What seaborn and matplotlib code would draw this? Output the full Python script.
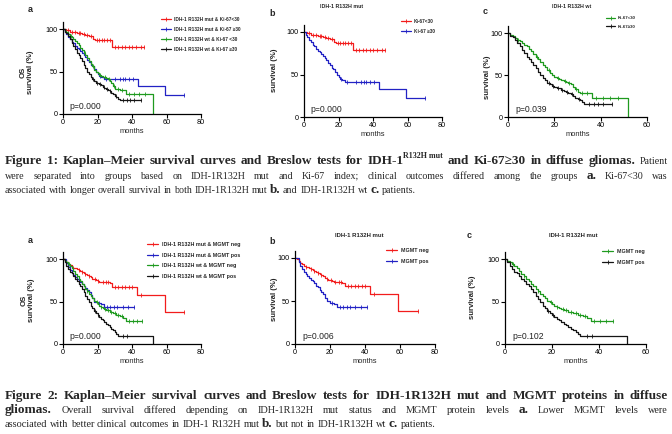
import numpy as np
import pandas as pd
import matplotlib
matplotlib.use("Agg")
import matplotlib.pyplot as plt
import matplotlib.transforms as mtransforms
from matplotlib.lines import Line2D
import seaborn as sns

# ===========================
# Data
# ===========================
# Figure 1 - IDH-1 R132H x Ki-67
ki_mut_lo_t = [0, 2, 4, 6, 8, 11, 13, 15, 17.5, 18.5, 28.5, 47]
ki_mut_lo_s = [100, 98.5, 97, 96, 95, 94, 93, 92, 88, 87, 79, 79]
ki_mut_lo_c = [3, 5, 7, 9.5, 10, 12, 14, 16, 19.5, 21, 22.5, 24, 25.5, 27, 30, 32, 34, 36, 38, 40, 42.5, 45, 47]

ki_mut_hi_t = [0, 1, 2, 3, 4, 5, 6, 7, 8, 9, 10, 11, 12, 13, 14, 15, 16, 17, 18, 19, 20, 21, 22, 24, 43.5, 59, 70]
ki_mut_hi_s = [100, 97, 94, 91, 88, 85, 83, 80, 78, 76, 74, 72, 69, 67, 64, 61, 58, 56, 53, 50, 47, 45, 43, 41, 33, 22, 22]
ki_mut_hi_c = [21.5, 25, 30, 33, 34.5, 36, 38, 40.5, 70]

ki_wt_lo_t = [0, 1, 2, 3, 4, 5, 6, 7, 8, 9, 10, 11, 12, 13, 14, 15, 16, 17, 18, 19, 20, 21, 22, 23, 24, 25, 26, 27, 28, 29, 30, 31, 33, 36.4, 52]
ki_wt_lo_s = [100, 98, 96, 94, 92, 90, 88, 86, 84, 81, 78, 75, 72, 69, 66, 62, 59, 56, 52, 50, 48, 46, 45, 44, 43, 42, 41, 39, 36, 33, 30, 29, 28, 23, 0]
ki_wt_lo_c = [4.5, 12.5, 17.5, 21.5, 24.5, 26.5, 29.5, 32, 34, 38, 41, 44, 47.5]

ki_wt_hi_t = [0, 1, 2, 3, 4, 5, 6, 7, 8, 9, 10, 11, 12, 13, 14, 15, 16, 17, 18, 19, 20, 21, 22, 23, 24, 25, 26, 27, 28, 29, 30, 31, 32, 33, 45]
ki_wt_hi_s = [100, 97, 95, 92, 88, 84, 80, 76, 72, 69, 66, 62, 58, 54, 50, 47, 44, 41, 39, 37, 36, 35, 34, 32, 31, 30, 28, 27, 25, 23, 21, 20, 18, 16, 16]
ki_wt_hi_c = [17.5, 19.5, 21.5, 23.5, 25.5, 27.5, 30.5, 35, 37, 39, 41, 45]

# Figure 2 - IDH-1 R132H x MGMT
mg_mut_neg_t = [0, 1, 2, 3, 4, 5, 6, 7, 8, 9, 10, 11, 12, 13, 14, 15, 16, 17, 18, 19, 20, 21, 22, 27, 28.5, 43, 59, 70]
mg_mut_neg_s = [100, 98.5, 96.5, 94.5, 92.5, 91, 90, 89, 88, 87, 86, 85, 84, 82, 81, 80, 79, 77, 76, 75, 74, 73, 72.5, 71.5, 67, 58, 38, 38]
mg_mut_neg_c = [3, 6, 9, 11, 13, 15, 18.5, 20.5, 23, 25, 26, 30, 32, 34, 36, 38, 40, 45, 70]

mg_mut_pos_t = [0, 2, 3, 4, 5, 6, 7, 8, 9, 10, 11, 12, 13, 14, 15, 16, 17, 18, 20, 22, 24, 41]
mg_mut_pos_s = [100, 95, 91, 87, 84, 81, 79, 77, 75, 73, 71, 68, 66, 63, 61, 58, 54, 50, 48, 47, 43, 43]
mg_mut_pos_c = [21, 25.5, 27.5, 29.5, 31.5, 34.5, 37.5, 41]

mg_wt_neg_t = [0, 1, 2, 3, 4, 5, 6, 7, 8, 9, 10, 11, 12, 13, 14, 15, 16, 17, 18, 19, 20, 21, 22, 23, 24, 25, 27, 29, 31, 33, 35, 36.5, 46]
mg_wt_neg_s = [100, 98, 96, 94, 92, 89, 86, 82, 80, 77, 74, 71, 68, 65, 62, 59, 56, 54, 51, 49, 47, 45, 43, 42, 41, 40, 38, 36, 34, 33, 31, 27, 27]
mg_wt_neg_c = [3.5, 8, 14, 19.5, 22, 24.5, 26, 28, 30, 32, 34, 38, 40.5, 43, 46]

mg_wt_pos_t = [0, 1, 2, 3, 4, 5, 6, 7, 8, 9, 10, 11, 12, 13, 14, 15, 16, 17, 18, 19, 20, 21, 22, 23, 24, 25, 26, 27, 28, 29, 30, 31, 32, 52]
mg_wt_pos_s = [100, 96, 92, 88, 85, 83, 80, 77, 74, 71, 68, 65, 61, 57, 53, 49, 45, 42, 39, 36, 34, 32, 30, 28, 26, 24, 22, 20, 18, 16, 14, 12, 10, 0]
mg_wt_pos_c = [18.5, 20.5, 35, 37]

# Captions
cap1 = [
    [("Figure 1: Kaplan–Meier survival curves and Breslow tests for IDH-1", "b"), ("R132H mut", "s"),
     (" and Ki-67≥30 in diffuse gliomas.", "b"), (" Patient", "r")],
    [("were separated into groups based on IDH-1R132H mut and Ki-67 index; clinical outcomes differed among the groups ", "r"),
     ("a.", "b"), (" Ki-67<30 was", "r")],
    [("associated with longer overall survival in both IDH-1R132H mut ", "r"), ("b.", "b"),
     (" and IDH-1R132H wt ", "r"), ("c.", "b"), (" patients.", "r")],
]
cap2 = [
    [("Figure 2: Kaplan–Meier survival curves and Breslow tests for IDH-1R132H mut and MGMT proteins in diffuse", "b")],
    [("gliomas.", "b"), (" Overall survival differed depending on IDH-1R132H mut status and MGMT protein levels ", "r"),
     ("a.", "b"), (" Lower MGMT levels were", "r")],
    [("associated with better clinical outcomes in IDH-1 R132H mut ", "r"), ("b.", "b"),
     (" but not in IDH-1R132H wt ", "r"), ("c.", "b"), (" patients.", "r")],
]

RED, BLUE, GREEN, BLACK = "#f21c1c", "#2222c4", "#1f9a1f", "#151515"
W, H = 672, 434

sns.set_style("ticks")
plt.rcParams["font.family"] = ["Liberation Sans", "DejaVu Sans"]
SERIF = ["Liberation Serif", "DejaVu Serif"]

fig = plt.figure(figsize=(W / 100, H / 100), dpi=100)


def panel(left, right, y0, y100):
    top = y0 - 1.08 * (y0 - y100)
    return fig.add_axes([left / W, 1 - y0 / H, (right - left) / W, (y0 - top) / H])


def km(ax, t, s, cens, color):
    df = pd.DataFrame({"months": t, "surv": s})
    sns.lineplot(data=df, x="months", y="surv", ax=ax, color=color, lw=0.9,
                 drawstyle="steps-post", sort=False, estimator=None)
    idx = np.searchsorted(t, cens, side="right") - 1
    ax.plot(cens, np.asarray(s)[idx], ls="none", marker="|", ms=2.6, mew=0.6, color=color)


def style(ax, xmax, p, ylab, lx, ly):
    ax.set_xlim(0, xmax)
    ax.set_ylim(0, 108)
    ax.set_xticks(range(0, xmax + 1, 20))
    ax.set_yticks([0, 50, 100])
    sns.despine(ax=ax)
    for sp in ["left", "bottom"]:
        ax.spines[sp].set_linewidth(0.9)
        ax.spines[sp].set_color("black")
    ax.tick_params(length=2.6, width=0.8, labelsize=5.2, pad=1, colors="black")
    ax.set_xlabel("months", fontsize=5.4, labelpad=1.5)
    ax.set_ylabel(ylab, fontsize=5.6, fontweight="bold", va="center", linespacing=1.0)
    ax.yaxis.set_label_coords(lx, ly)
    ax.text(0.05, 0.085, p, transform=ax.transAxes, fontsize=6.2, va="center", color="#222222")


def legend(ax, labels, colors, x, y, fs):
    hs = [Line2D([], [], color=c, lw=0.9, marker="|", ms=2.4, mew=0.6) for c in colors]
    ax.legend(hs, labels, loc="upper left", bbox_to_anchor=(x / W, 1 - y / H),
              bbox_transform=fig.transFigure, frameon=False,
              prop={"weight": "bold", "size": fs}, handlelength=2.1, handletextpad=0.6,
              labelspacing=1.05, borderpad=0, borderaxespad=0)


# ---------- Figure 1 ----------
ax = panel(63, 201, 114, 29)
km(ax, ki_mut_lo_t, ki_mut_lo_s, ki_mut_lo_c, RED)
km(ax, ki_mut_hi_t, ki_mut_hi_s, ki_mut_hi_c, BLUE)
km(ax, ki_wt_lo_t, ki_wt_lo_s, ki_wt_lo_c, GREEN)
km(ax, ki_wt_hi_t, ki_wt_hi_s, ki_wt_hi_c, BLACK)
style(ax, 80, "p=0.000", "OS\nsurvival (%)", -0.26, 0.455)
legend(ax, ["IDH-1 R132H mut & Ki-67<30", "IDH-1 R132H mut & Ki-67 ≥30",
            "IDH-1 R132H wt & Ki-67 <30", "IDH-1 R132H wt & Ki-67 ≥30"],
       [RED, BLUE, GREEN, BLACK], 161, 17, 3.4)

ax = panel(304, 442, 117, 32)
km(ax, ki_mut_lo_t, ki_mut_lo_s, ki_mut_lo_c, RED)
km(ax, ki_mut_hi_t, ki_mut_hi_s, ki_mut_hi_c, BLUE)
style(ax, 80, "p=0.000", "survival (%)", -0.215, 0.51)
legend(ax, ["Ki-67<30", "Ki-67 ≥30"], [RED, BLUE], 401, 19, 3.4)

ax = panel(508, 647, 117, 33)
km(ax, ki_wt_lo_t, ki_wt_lo_s, ki_wt_lo_c, GREEN)
km(ax, ki_wt_hi_t, ki_wt_hi_s, ki_wt_hi_c, BLACK)
style(ax, 60, "p=0.039", "survival (%)", -0.146, 0.44)
legend(ax, ["Ki-67<30", "Ki-67≥30"], [GREEN, BLACK], 606, 16, 3.2)

# ---------- Figure 2 ----------
ax = panel(63, 201, 344, 259)
km(ax, mg_mut_neg_t, mg_mut_neg_s, mg_mut_neg_c, RED)
km(ax, mg_mut_pos_t, mg_mut_pos_s, mg_mut_pos_c, BLUE)
km(ax, mg_wt_neg_t, mg_wt_neg_s, mg_wt_neg_c, GREEN)
km(ax, mg_wt_pos_t, mg_wt_pos_s, mg_wt_pos_c, BLACK)
style(ax, 80, "p=0.000", "OS\nsurvival (%)", -0.257, 0.48)
legend(ax, ["IDH-1 R132H mut & MGMT neg", "IDH-1 R132H mut & MGMT pos",
            "IDH-1 R132H wt & MGMT neg", "IDH-1 R132H wt & MGMT pos"],
       [RED, BLUE, GREEN, BLACK], 147, 242, 3.9)

ax = panel(295, 435, 344, 258)
km(ax, mg_mut_neg_t, mg_mut_neg_s, mg_mut_neg_c, RED)
km(ax, mg_mut_pos_t, mg_mut_pos_s, mg_mut_pos_c, BLUE)
style(ax, 80, "p=0.006", "survival (%)", -0.15, 0.48)
legend(ax, ["MGMT neg", "MGMT pos"], [RED, BLUE], 386, 248, 3.9)

ax = panel(505, 646, 344, 259)
km(ax, mg_wt_neg_t, mg_wt_neg_s, mg_wt_neg_c, GREEN)
km(ax, mg_wt_pos_t, mg_wt_pos_s, mg_wt_pos_c, BLACK)
style(ax, 60, "p=0.102", "survival (%)", -0.227, 0.51)
legend(ax, ["MGMT neg", "MGMT pos"], [GREEN, BLACK], 602, 249, 3.9)

# panel letters and titles
for x, y, s in [(30, 10, "a"), (272, 13, "b"), (485, 11, "c"), (30, 240, "a"), (272, 241, "b"), (469, 235, "c")]:
    fig.text(x / W, 1 - y / H, s, fontsize=6.5, fontweight="bold", ha="center", va="center")
for x, y, s, fs in [(342, 6, "IDH-1 R132H mut", 3.8), (572, 6, "IDH-1 R132H wt", 3.8),
                    (359, 235, "IDH-1 R132H mut", 4.3), (573, 235, "IDH-1 R132H mut", 4.3)]:
    fig.text(x / W, 1 - y / H, s, fontsize=fs, fontweight="bold", ha="center", va="center")


# ---------- captions (justified like the journal layout) ----------
def words_of(line):
    words = [[]]
    for text, st in line:
        if st == "s":
            words[-1].append((text, st))
            continue
        for i, part in enumerate(text.split(" ")):
            if i > 0:
                words.append([])
            if part:
                words[-1].append((part, st))
    return [w for w in words if w]


renderer = fig.canvas.get_renderer()
ident = mtransforms.IdentityTransform()


def piece_size(sizes, st):
    bold, reg = sizes
    return {"b": bold, "s": bold * 0.6, "r": reg}[st]


def measure(text, fs, st):
    t = fig.text(0, 0, text, fontsize=fs, family=SERIF,
                 fontweight="normal" if st == "r" else "bold", transform=ident)
    wd = t.get_window_extent(renderer).width
    t.remove()
    return wd


def line_width(line, sizes):
    ws = words_of(line)
    total = sum(measure(text, piece_size(sizes, st), st) for w in ws for text, st in w)
    return total + (len(ws) - 1) * 0.25 * sizes[1] * 100 / 72


def put_line(line, y_base, sizes, justify, x0=5, x1=668):
    ws = words_of(line)
    widths = [sum(measure(text, piece_size(sizes, st), st) for text, st in w) for w in ws]
    gap = 0.25 * sizes[1] * 100 / 72
    if justify:
        gap = (x1 - x0 - sum(widths)) / (len(widths) - 1)
    x = x0
    for w, ww in zip(ws, widths):
        xx = x
        for text, st in w:
            fs = piece_size(sizes, st)
            dy = 0.45 * sizes[0] * 100 / 72 if st == "s" else 0
            fig.text(xx, H - y_base + dy, text, fontsize=fs, family=SERIF,
                     fontweight="normal" if st == "r" else "bold",
                     ha="left", va="baseline", transform=ident)
            xx += measure(text, fs, st)
        x += ww + gap


# bold size from the tight first line of figure 1, regular size from the last lines
bold = 10 * 655 / line_width(cap1[0], (10, 10))
reg1 = max(0.76 * bold, bold * 340 / line_width(cap1[2], (bold, bold)))
reg2 = max(0.76 * bold, bold * 425 / line_width(cap2[2], (bold, bold)))
for i, (yb, line) in enumerate(zip([164, 179, 193], cap1)):
    put_line(line, yb, (bold, reg1), i < 2)
for i, (yb, line) in enumerate(zip([399, 413, 427], cap2)):
    put_line(line, yb, (bold, reg2), i < 2)

fig.savefig("out.png", dpi=100)
